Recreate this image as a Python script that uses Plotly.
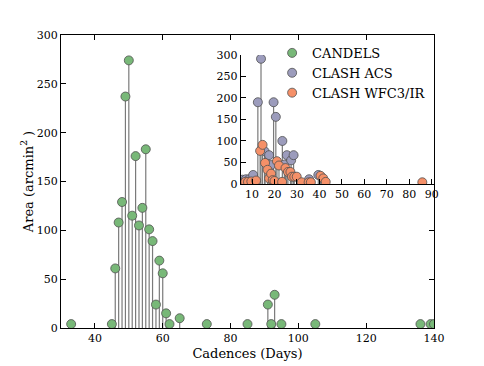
import plotly.graph_objects as go

# CANDELS cadences (main panel)
candels_days = [33, 45, 46, 47, 48, 49, 50, 51, 52, 53, 54, 55, 56, 57, 58, 59, 60, 61, 62,
                65, 73, 85, 91, 92, 93, 95, 105, 136, 139, 140]
candels_area = [4, 4, 61, 108, 129, 237, 274, 115, 176, 105, 123, 183, 101, 89, 24, 69, 56, 15, 4,
                10, 4, 4, 24, 4, 34, 4, 4, 4, 4, 4]

# CLASH ACS (inset)
acs_days = [5.8, 7.3, 8.8, 10.5, 12.6, 14.0, 15.6, 17.6, 18.5, 19.6, 20.6, 23.5, 24.4, 25.5,
            27.4, 28.5, 35.4, 39.5]
acs_area = [10, 11, 11, 21, 190, 291, 76, 67, 44, 190, 156, 100, 45, 67, 55, 67, 11, 21]

# CLASH WFC3/IR (inset)
wfc_days = [7.0, 8.2, 9.7, 11.8, 13.6, 14.7, 15.8, 16.9, 17.6, 18.5, 19.2, 20.0, 21.1, 22.0,
            23.4, 24.9, 26.0, 27.1, 27.8, 28.8, 29.9, 32.1, 35.2, 36.2, 40.5, 41.7, 42.8, 85.8]
wfc_area = [5, 5, 6, 8, 77, 91, 49, 33, 13, 24, 9, 7, 53, 43, 5, 37, 28, 28, 17, 17, 17, 4, 4, 4,
            19, 13, 5, 4]

FONT = "DejaVu Serif"
STEM = "#7a7a7a"


def stems(xs, ys, xa, ya):
    sx, sy = [], []
    for x, y in zip(xs, ys):
        sx += [x, x, None]
        sy += [0, y, None]
    return go.Scatter(x=sx, y=sy, mode="lines", line=dict(color=STEM, width=1.2),
                      showlegend=False, hoverinfo="skip", xaxis=xa, yaxis=ya)


def heads(xs, ys, name, color, xa, ya, size=9):
    return go.Scatter(x=xs, y=ys, mode="markers", name=name, xaxis=xa, yaxis=ya,
                      marker=dict(color=color, size=size, line=dict(color="#505050", width=0.8)))


fig = go.Figure()
fig.add_trace(stems(candels_days, candels_area, "x", "y"))
fig.add_trace(heads(candels_days, candels_area, "CANDELS", "#78b878", "x", "y"))
fig.add_trace(stems(acs_days, acs_area, "x2", "y2"))
fig.add_trace(heads(acs_days, acs_area, "CLASH ACS", "#9c9cbc", "x2", "y2"))
fig.add_trace(stems(wfc_days, wfc_area, "x2", "y2"))
fig.add_trace(heads(wfc_days, wfc_area, "CLASH WFC3/IR", "#f59068", "x2", "y2"))

axis_common = dict(showline=True, linecolor="black", linewidth=1, ticks="inside",
                   ticklen=5, tickcolor="black", showgrid=False, zeroline=False,
                   automargin=False,
                   tickfont=dict(family=FONT, size=11, color="black"))

# the page body adds an 8px offset, so the margins are shifted to compensate
fig.update_layout(
    width=484, height=366,
    margin=dict(l=53, r=58, t=27, b=46),
    paper_bgcolor="white", plot_bgcolor="white",
    font=dict(family=FONT, color="black"),
    xaxis=dict(range=[30, 140], tickvals=[40, 60, 80, 100, 120, 140], mirror="ticks",
               title=dict(text="Cadences (Days)", font=dict(family=FONT, size=13), standoff=4),
               **axis_common),
    yaxis=dict(range=[0, 300], tickvals=[0, 50, 100, 150, 200, 250, 300], mirror="ticks",
               title=dict(text="Area (arcmin<sup>2</sup> )", font=dict(family=FONT, size=13),
                          standoff=0),
               **axis_common),
    xaxis2=dict(domain=[0.482, 1.0], anchor="y2", range=[5, 91],
                tickvals=[10, 20, 30, 40, 50, 60, 70, 80, 90], **axis_common),
    yaxis2=dict(domain=[0.4915, 0.932], anchor="x2", range=[0, 300],
                tickvals=[0, 50, 100, 150, 200, 250, 300], **axis_common),
    legend=dict(x=0.566, y=0.99, xanchor="left", yanchor="top", bgcolor="rgba(0,0,0,0)",
                font=dict(family=FONT, size=13), tracegroupgap=0),
)

fig.write_html("out.html")
